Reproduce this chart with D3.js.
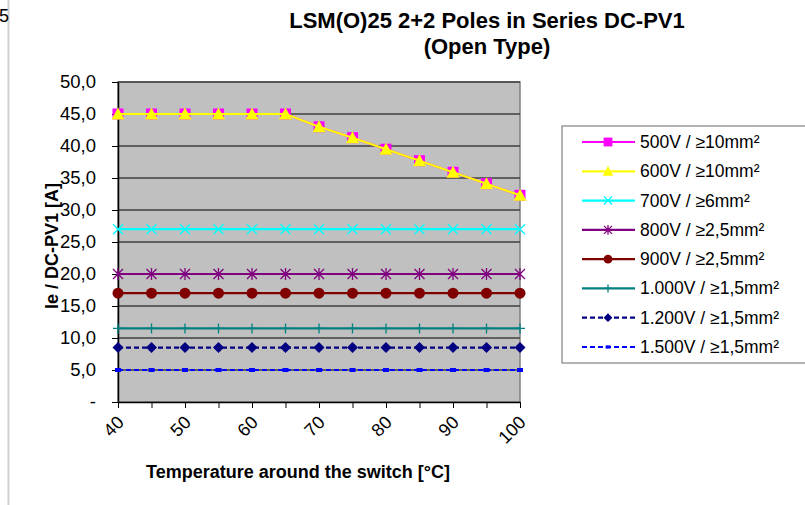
<!DOCTYPE html>
<html><head><meta charset="utf-8">
<script src="https://cdn.jsdelivr.net/npm/d3@7"></script>
<style>body{margin:0;background:#fff;font-family:Arial,"Liberation Sans",sans-serif;}</style>
</head><body>
<svg id="c" width="805" height="505"></svg>
<script>
const temps = [40,45,50,55,60,65,70,75,80,85,90,95,100];
const xTickLabels = [40,50,60,70,80,90,100];
const yTicks = [0,5,10,15,20,25,30,35,40,45,50];
const seriesNames = ["500V / ≥10mm²","600V / ≥10mm²","700V / ≥6mm²","800V / ≥2,5mm²","900V / ≥2,5mm²","1.000V / ≥1,5mm²","1.200V / ≥1,5mm²","1.500V / ≥1,5mm²"];
const v500  = [45,45,45,45,45,45,43.0,41.3,39.5,37.7,35.9,34.1,32.3];
const v600  = [45,45,45,45,45,45,43.0,41.3,39.5,37.7,35.9,34.1,32.3];
const v700  = [27,27,27,27,27,27,27,27,27,27,27,27,27];
const v800  = [20,20,20,20,20,20,20,20,20,20,20,20,20];
const v900  = [17,17,17,17,17,17,17,17,17,17,17,17,17];
const v1000 = [11.5,11.5,11.5,11.5,11.5,11.5,11.5,11.5,11.5,11.5,11.5,11.5,11.5];
const v1200 = [8.5,8.5,8.5,8.5,8.5,8.5,8.5,8.5,8.5,8.5,8.5,8.5,8.5];
const v1500 = [5,5,5,5,5,5,5,5,5,5,5,5,5];
const seriesValues = [v500,v600,v700,v800,v900,v1000,v1200,v1500];
const colors = ["#FF00FF","#FFFF00","#00FFFF","#800080","#800000","#008080","#000080","#0000FF"];
const markers = ["square","triangle","x","star","circle","plus","diamond","dash"];
const dashes = [null,null,null,null,null,null,"5,3","5,3"];

const FONT = "Arial,'Liberation Sans',sans-serif";
const svg = d3.select("#c");
const L=118,R=520,T=82,B=402;
const x = d3.scaleLinear().domain([40,100]).range([L,R]);
const y = d3.scaleLinear().domain([0,50]).range([B,T]);

// page artefacts
svg.append("line").attr("x1",8.5).attr("x2",8.5).attr("y1",0).attr("y2",505).attr("stroke","#d0d0d0").attr("stroke-width",2);
svg.append("text").attr("x",-1).attr("y",22).attr("font-size",18).attr("font-family",FONT).text("5");

// plot area
svg.append("rect").attr("x",L).attr("y",T).attr("width",R-L).attr("height",B-T).attr("fill","#C0C0C0").attr("stroke","#808080").attr("stroke-width",1.5);
svg.append("g").selectAll("line").data(yTicks.filter(d=>d>0)).join("line")
  .attr("x1",L).attr("x2",R).attr("y1",d=>y(d)).attr("y2",d=>y(d)).attr("stroke","#404040").attr("stroke-width",1.3);

// axes
const yAxis = d3.axisLeft(y).tickValues(yTicks).tickSize(6).tickSizeOuter(0)
  .tickFormat(d=> d===0 ? "-" : d3.format(".1f")(d).replace(".",","));
const gy = svg.append("g").attr("transform",`translate(${L},0)`).call(yAxis);
gy.select(".domain").attr("stroke","#000").attr("stroke-width",1.5);
gy.selectAll(".tick line").attr("stroke","#000");
gy.selectAll("text").attr("font-size",18.5).attr("fill","#000").attr("font-family",FONT).attr("x",-22);

const xAxis = d3.axisBottom(x).tickValues(temps).tickSize(6).tickSizeOuter(0)
  .tickFormat(d=> xTickLabels.includes(d) ? String(d) : "");
const gx = svg.append("g").attr("transform",`translate(0,${B})`).call(xAxis);
gx.select(".domain").attr("stroke","#000").attr("stroke-width",1.5);
gx.selectAll(".tick line").attr("stroke","#000");
gx.selectAll("text").attr("font-size",18).attr("fill","#000").attr("font-family",FONT)
  .attr("text-anchor","end").attr("dy","0.35em").attr("y",0).attr("x",0)
  .attr("transform","translate(2,17) rotate(-45)");

// marker drawing
function drawMarker(g, type, color, cx, cy, s){
  s = s||1;
  if(type==="square") g.append("rect").attr("x",cx-5.5*s).attr("y",cy-5.5*s).attr("width",11*s).attr("height",11*s).attr("fill",color);
  else if(type==="triangle") g.append("path").attr("d",`M${cx},${cy-6.5*s}L${cx+6.5*s},${cy+5.5*s}L${cx-6.5*s},${cy+5.5*s}Z`).attr("fill",color);
  else if(type==="x") g.append("path").attr("d",`M${cx-5*s},${cy-5*s}L${cx+5*s},${cy+5*s}M${cx+5*s},${cy-5*s}L${cx-5*s},${cy+5*s}`).attr("stroke",color).attr("stroke-width",1.3);
  else if(type==="star") g.append("path").attr("d",`M${cx-5*s},${cy-5*s}L${cx+5*s},${cy+5*s}M${cx+5*s},${cy-5*s}L${cx-5*s},${cy+5*s}M${cx},${cy-6*s}L${cx},${cy+6*s}`).attr("stroke",color).attr("stroke-width",1.3);
  else if(type==="circle") g.append("circle").attr("cx",cx).attr("cy",cy).attr("r",5.5*s).attr("fill",color);
  else if(type==="plus") g.append("path").attr("d",`M${cx-5*s},${cy}L${cx+5*s},${cy}M${cx},${cy-5*s}L${cx},${cy+5*s}`).attr("stroke",color).attr("stroke-width",1.3);
  else if(type==="diamond") g.append("path").attr("d",`M${cx},${cy-5.5*s}L${cx+5.5*s},${cy}L${cx},${cy+5.5*s}L${cx-5.5*s},${cy}Z`).attr("fill",color);
  else if(type==="dash") g.append("rect").attr("x",cx-3*s).attr("y",cy-2*s).attr("width",6*s).attr("height",4*s).attr("fill",color);
}

const line = d3.line().x((d,i)=>x(temps[i])).y(d=>y(d));
const order = [7,6,5,4,3,2,0,1];
order.forEach(si=>{
  const g = svg.append("g");
  const p = g.append("path").attr("d",line(seriesValues[si])).attr("fill","none").attr("stroke",colors[si]).attr("stroke-width",2.2);
  if(dashes[si]) p.attr("stroke-dasharray",dashes[si]);
  seriesValues[si].forEach((v,i)=>drawMarker(g,markers[si],colors[si],x(temps[i]),y(v)));
});

// titles
svg.append("text").attr("x",487).attr("y",28).attr("text-anchor","middle").attr("font-size",22).attr("font-weight","bold").attr("font-family",FONT).text("LSM(O)25 2+2 Poles in Series DC-PV1");
svg.append("text").attr("x",487).attr("y",54).attr("text-anchor","middle").attr("font-size",22).attr("font-weight","bold").attr("font-family",FONT).text("(Open Type)");
svg.append("text").attr("x",298).attr("y",478).attr("text-anchor","middle").attr("font-size",18).attr("font-weight","bold").attr("font-family",FONT).text("Temperature around the switch [°C]");
svg.append("text").attr("transform","translate(58,246) rotate(-90)").attr("text-anchor","middle").attr("font-size",18).attr("font-weight","bold").attr("font-family",FONT).text("Ie / DC-PV1 [A]");

// legend
const lg = svg.append("g");
lg.append("rect").attr("x",562).attr("y",126).attr("width",245).attr("height",237).attr("fill","#fff").attr("stroke","#808080").attr("stroke-width",1.2);
const rowY = d3.scaleLinear().domain([0,7]).range([142,347]);
seriesNames.forEach((name,si)=>{
  const yy = rowY(si);
  const l = lg.append("line").attr("x1",582).attr("x2",635).attr("y1",yy).attr("y2",yy).attr("stroke",colors[si]).attr("stroke-width",2.2);
  if(dashes[si]) l.attr("stroke-dasharray",dashes[si]);
  drawMarker(lg,markers[si],colors[si],608,yy,0.8);
  lg.append("text").attr("x",640).attr("y",yy+6).attr("font-size",17.5).attr("font-family",FONT).text(name);
});
</script>
</body></html>
